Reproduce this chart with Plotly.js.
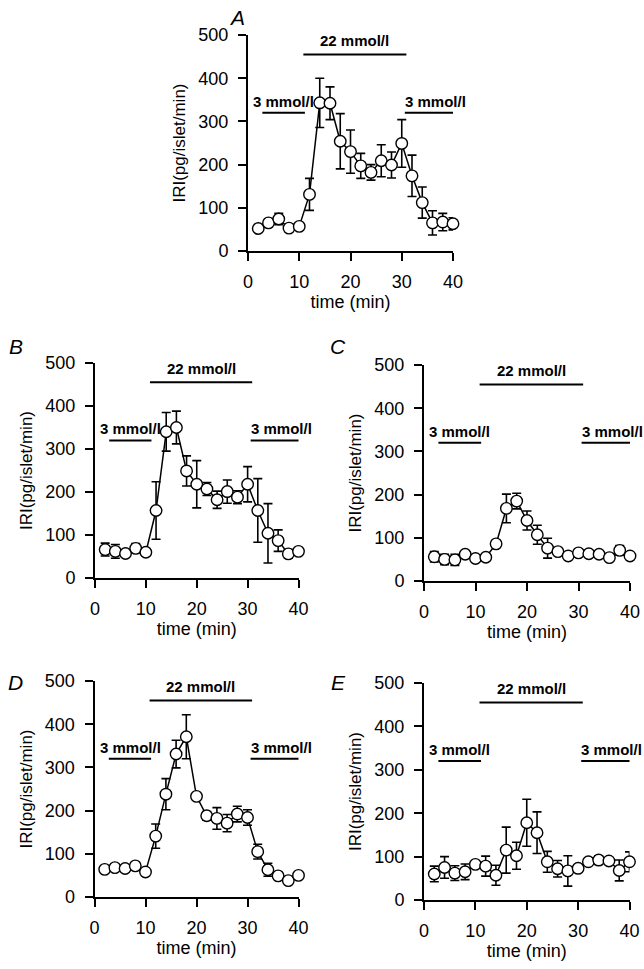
<!DOCTYPE html>
<html>
<head>
<meta charset="utf-8">
<script src="https://cdn.plot.ly/plotly-3.0.1.min.js"></script>
<style>html,body{margin:0;padding:0;background:#fff;}#chart{width:644px;height:969px;}</style>
</head>
<body>
<div id="chart"></div>
<script>
// ---- data ----
const time = [2, 4, 6, 8, 10, 12, 14, 16, 18, 20, 22, 24, 26, 28, 30, 32, 34, 36, 38, 40];

const panelLetters = ['A', 'B', 'C', 'D', 'E'];

const valuesA = [52, 65, 74, 53, 57, 131, 343, 342, 254, 230, 197, 182, 209, 199, 249, 174, 112, 65, 67, 63];
const errorsA = [0, 9, 13, 8, 0, 37, 57, 38, 64, 50, 29, 18, 37, 30, 55, 48, 36, 28, 20, 14];

const valuesB = [66, 62, 57, 69, 60, 157, 340, 350, 249, 218, 207, 182, 201, 188, 218, 157, 104, 87, 56, 62];
const errorsB = [15, 16, 0, 11, 8, 67, 45, 38, 35, 55, 15, 20, 27, 15, 41, 74, 69, 25, 10, 0];

const valuesC = [56, 50, 49, 62, 52, 55, 86, 168, 185, 140, 107, 76, 68, 58, 65, 63, 62, 54, 71, 58];
const errorsC = [12, 12, 13, 0, 0, 0, 0, 33, 18, 22, 22, 23, 0, 0, 0, 5, 0, 0, 11, 0];

const valuesD = [64, 68, 66, 72, 58, 141, 238, 331, 371, 233, 188, 182, 171, 192, 184, 105, 63, 49, 38, 50];
const errorsD = [0, 0, 0, 0, 0, 28, 36, 32, 51, 0, 10, 25, 20, 18, 18, 17, 15, 8, 0, 0];

const valuesE = [60, 75, 62, 65, 82, 78, 57, 115, 102, 178, 155, 88, 72, 67, 73, 88, 92, 90, 68, 88];
const errorsE = [18, 25, 17, 18, 0, 23, 23, 53, 31, 54, 48, 24, 19, 35, 0, 5, 10, 5, 24, 23];

// glucose periods (min) and labels
const periodLabels = ['3 mmol/l', '22 mmol/l', '3 mmol/l'];
const periodStart = [2.8, 10.8, 30.6];
const periodEnd = [11.1, 30.9, 41.5];

const yTicks = [0, 100, 200, 300, 400, 500];
const xTicks = [0, 10, 20, 30, 40];

// ---- layout geometry (pixels in 644x969 page) ----
const W = 644, H = 969;
const boxes = [
  {x0: 248, x1: 453, y0: 251, y1: 35},
  {x0: 95, x1: 298.5, y0: 578, y1: 363},
  {x0: 424, x1: 630, y0: 581, y1: 365},
  {x0: 94.5, x1: 298.5, y0: 897, y1: 681},
  {x0: 424, x1: 629.5, y0: 900, y1: 683}
];
const letterPos = [[237, 18], [16, 346], [338, 346], [16, 682], [338, 682]];

const series = [[valuesA, errorsA], [valuesB, errorsB], [valuesC, errorsC], [valuesD, errorsD], [valuesE, errorsE]];

const FONT = 'Liberation Sans, Arial, Helvetica, sans-serif';
const traces = [];
const layout = {
  width: W, height: H,
  margin: {l: 0, r: 0, t: 0, b: 0},
  paper_bgcolor: '#fff', plot_bgcolor: '#fff',
  showlegend: false,
  font: {family: FONT, color: '#000'},
  annotations: [],
  shapes: []
};

series.forEach((s, i) => {
  const n = i === 0 ? '' : String(i + 1);
  const xa = 'x' + n, ya = 'y' + n;
  traces.push({
    type: 'scatter', mode: 'lines+markers',
    x: time, y: s[0], xaxis: xa, yaxis: ya,
    cliponaxis: false,
    line: {color: '#000', width: 1.5},
    marker: {symbol: 'circle', size: 11.5, color: '#fff', line: {color: '#000', width: 1.4}},
    error_y: {type: 'data', array: s[1], visible: true, color: '#000', thickness: 1.6, width: 4.5}
  });
  const b = boxes[i];
  const axCommon = {
    showline: true, linecolor: '#000', linewidth: 2,
    ticks: 'outside', ticklen: 8, tickwidth: 2, tickcolor: '#000',
    showgrid: false, zeroline: false,
    tickfont: {family: FONT, size: 18, color: '#000'},
    fixedrange: true
  };
  layout['xaxis' + n] = Object.assign({}, axCommon, {
    domain: [b.x0 / W, b.x1 / W], anchor: ya, range: [0, 40],
    tickvals: xTicks, ticklabelstandoff: 5,
    title: {text: 'time (min)', font: {family: FONT, size: 18, color: '#000'}, standoff: 2}
  });
  layout['yaxis' + n] = Object.assign({}, axCommon, {
    domain: [1 - b.y0 / H, 1 - b.y1 / H], anchor: xa, range: [0, 500],
    tickvals: yTicks, ticklabelstandoff: 6,
    title: {text: 'IRI(pg/islet/min)', font: {family: FONT, size: 17, color: '#000'}, standoff: 8}
  });
  // panel letter
  layout.annotations.push({
    xref: 'paper', yref: 'paper', x: letterPos[i][0] / W, y: 1 - letterPos[i][1] / H,
    xanchor: 'center', yanchor: 'middle', showarrow: false,
    text: '<i>' + panelLetters[i] + '</i>', font: {family: FONT, size: 21, color: '#000'}
  });
  // glucose period bars and labels
  const levels = [320, 455, 320];
  periodLabels.forEach((lab, k) => {
    layout.shapes.push({
      type: 'line', xref: xa, yref: ya,
      x0: periodStart[k], x1: periodEnd[k], y0: levels[k], y1: levels[k],
      line: {color: '#000', width: 2}
    });
    let ann;
    if (k === 1) {
      ann = {x: (periodStart[k] + periodEnd[k]) / 2, y: 487, xanchor: 'center'};
    } else if (k === 0) {
      ann = {x: 0.6, y: 347, xanchor: 'left'};
    } else {
      ann = {x: 30.2, y: 347, xanchor: 'left'};
    }
    layout.annotations.push(Object.assign(ann, {
      xref: xa, yref: ya, yanchor: 'middle', showarrow: false,
      text: '<b>' + lab + '</b>', font: {family: FONT, size: 15, color: '#000'}
    }));
  });
});

Plotly.newPlot('chart', traces, layout, {staticPlot: true, displayModeBar: false});
</script>
</body>
</html>
